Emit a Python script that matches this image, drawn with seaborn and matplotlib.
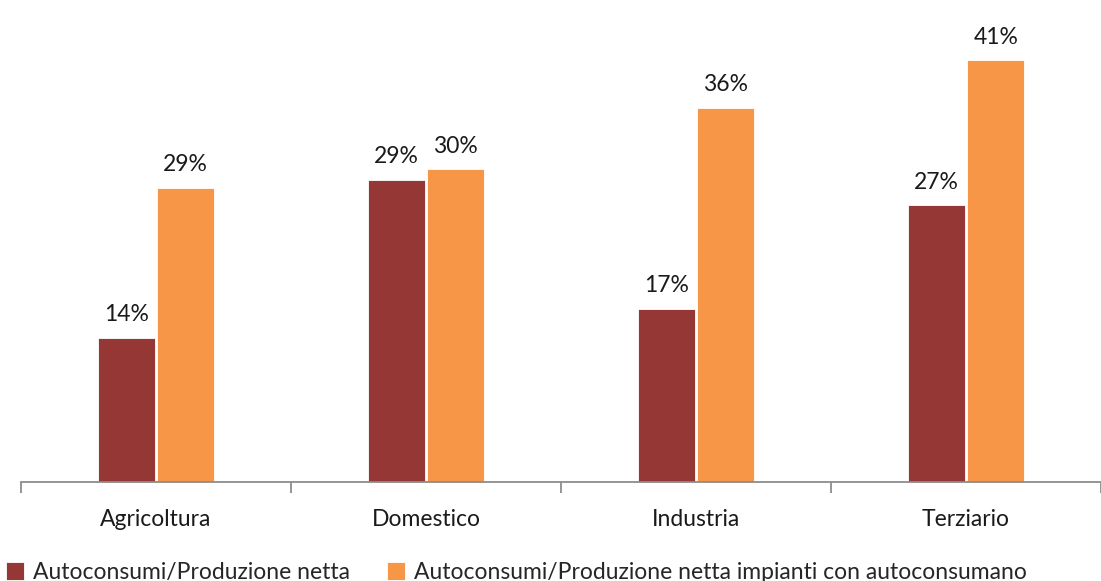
import numpy as np
import pandas as pd
import matplotlib
matplotlib.use("Agg")
import matplotlib.pyplot as plt
import seaborn as sns

categories = ["Agricoltura", "Domestico", "Industria", "Terziario"]
series_names = ["Autoconsumi/Produzione netta",
                "Autoconsumi/Produzione netta impianti con autoconsumano"]
autoconsumi_netta = [14.0, 29.4, 16.8, 26.9]
autoconsumi_impianti = [28.6, 30.4, 36.4, 41.0]
colors = ["#953735", "#F79646"]

df = pd.DataFrame({
    "Settore": categories * 2,
    "Serie": [series_names[0]] * 4 + [series_names[1]] * 4,
    "Valore": autoconsumi_netta + autoconsumi_impianti,
})

sns.set_theme(style="white")
plt.rcParams["font.family"] = ["Lato", "DejaVu Sans"]

fig = plt.figure(figsize=(11.01, 5.81), dpi=100)
ax = fig.add_axes([21 / 1101, (581 - 481.5) / 581, 1 - 21 / 1101, (481.5 - 19.4) / 581])

sns.barplot(data=df, x="Settore", y="Valore", hue="Serie", order=categories,
            hue_order=series_names, palette=colors, saturation=1,
            width=0.44, gap=0.05, edgecolor="white", linewidth=0.6, ax=ax)

# percent labels above the bars
for cont in ax.containers:
    ax.bar_label(cont, fmt="%.0f%%", padding=9, fontsize=16.5, color="#1a1a1a")

ax.set_xlim(-0.5, 3.5)
ax.set_ylim(0, 45)
ax.set_xlabel("")
ax.set_ylabel("")
ax.set_yticks([])
ax.tick_params(axis="x", which="major", bottom=False, length=0, pad=20,
               labelsize=16.5, labelcolor="#1a1a1a")
# category separators as minor ticks
ax.set_xticks(np.arange(-0.5, 4, 1), minor=True)
ax.tick_params(axis="x", which="minor", bottom=True, length=8, width=1.3,
               color="#8c8c8c")

for s in ["left", "top", "right"]:
    ax.spines[s].set_visible(False)
ax.spines["bottom"].set_color("#8c8c8c")
ax.spines["bottom"].set_linewidth(1.3)

handles, labels = ax.get_legend_handles_labels()
ax.get_legend().remove()
fig.legend(handles, labels, loc="lower left", bbox_to_anchor=(0.004, -0.005),
           ncol=2, frameon=False, fontsize=16.5, handlelength=0.8,
           handleheight=0.8, handletextpad=0.4, columnspacing=1.6,
           borderaxespad=0.0, borderpad=0.05)

fig.savefig("out.png", dpi=100)
